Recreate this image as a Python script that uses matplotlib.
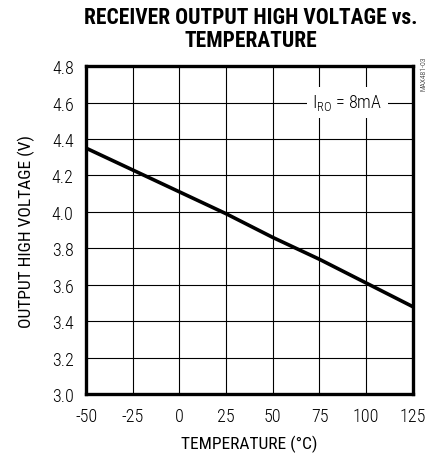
import matplotlib
matplotlib.use("Agg")
import matplotlib.pyplot as plt
from matplotlib import font_manager

# datos
temp = [-50, -25, 0, 25, 50, 75, 100, 125]
v_oh = [4.35, 4.23, 4.11, 3.99, 3.86, 3.74, 3.61, 3.48]
xticks = [-50, -25, 0, 25, 50, 75, 100, 125]
yticks = [3.0, 3.2, 3.4, 3.6, 3.8, 4.0, 4.2, 4.4, 4.6, 4.8]

# escoger una fuente condensada instalada
nombres = {f.name for f in font_manager.fontManager.ttflist}
def primera(opciones):
    for n in opciones:
        if n in nombres:
            return n
    return "DejaVu Sans"

fuente = primera(["Roboto Condensed", "Archivo Narrow", "Barlow Condensed", "Asap Condensed"])
fuente_titulo = primera(["Roboto Condensed", "Barlow Condensed", "Asap Condensed"])

plt.rcParams["font.family"] = [fuente, "DejaVu Sans"]
plt.rcParams["font.weight"] = "light"
plt.rcParams["axes.unicode_minus"] = False
plt.rcParams["mathtext.fontset"] = "custom"
plt.rcParams["mathtext.rm"] = fuente + ":light"

fig = plt.figure(figsize=(4.35, 4.6), dpi=100)
ax = fig.add_axes([0.198, 0.141, 0.751, 0.713])

ax.plot(temp, v_oh, color="black", lw=2.6, zorder=3)

ax.set_xlim(-50, 125)
ax.set_ylim(3.0, 4.8)
ax.set_xticks(xticks)
ax.set_yticks(yticks)
ax.set_yticklabels(["%.1f" % v for v in yticks])
ax.tick_params(length=0, labelsize=13, pad=9)
ax.grid(True, color="black", lw=0.8)
for s in ax.spines.values():
    s.set_linewidth(2.4)

ax.set_xlabel("TEMPERATURE (°C)", fontsize=12.5, labelpad=7)
ax.set_ylabel("OUTPUT HIGH VOLTAGE (V)", fontsize=12.5, labelpad=12)

ax.text(90, 4.6, r"I$_{\mathregular{RO}}$ = 8mA", fontsize=13, ha="center", va="center",
        bbox=dict(facecolor="white", edgecolor="none", pad=4), zorder=4)

fig.text(0.576, 0.985, "RECEIVER OUTPUT HIGH VOLTAGE vs.\nTEMPERATURE", ha="center", va="top",
         fontsize=15.5, family=fuente_titulo, fontweight=900, linespacing=1.05)
fig.text(0.973, 0.84, "MAX481-03", rotation=90, fontsize=5.5, ha="center", va="center")

fig.savefig("out.png", dpi=100)
